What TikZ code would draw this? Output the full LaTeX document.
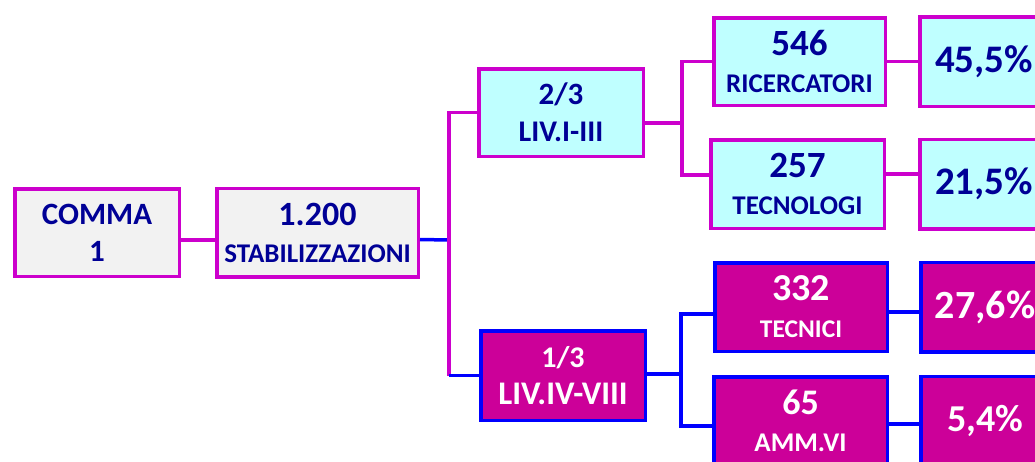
\documentclass[tikz,border=0pt]{standalone}
\usepackage{fontspec}
\setmainfont{Carlito}
\usetikzlibrary{positioning}
\definecolor{magline}{HTML}{CC00CC}
\definecolor{blueline}{HTML}{0000FF}
\definecolor{boxgrey}{HTML}{F2F2F2}
\definecolor{boxcyan}{HTML}{BFFFFF}
\definecolor{boxpink}{HTML}{CC0099}
\definecolor{navytext}{HTML}{000096}
\newcommand{\fs}[2]{\fontsize{#1}{#2}\selectfont}
\tikzstyle{box} = [rectangle, line width=3.5pt, inner sep=0pt, align=center, font=\bfseries\fs{23}{37}]
\tikzstyle{greybox} = [box, fill=boxgrey, draw=magline, text=navytext]
\tikzstyle{cyanbox} = [box, fill=boxcyan, draw=magline, text=navytext]
\tikzstyle{pinkbox} = [box, fill=boxpink, draw=blueline, text=white]
\tikzstyle{magconn} = [draw=magline, line width=3.5pt]
\tikzstyle{blueconn} = [draw=blueline, line width=3.5pt]

\begin{document}
\begin{tikzpicture}[x=1pt, y=-1pt]

\useasboundingbox (0,0) rectangle (1035,461);
\fill[white] (0,0) rectangle (1035,461);
\clip (0,0) rectangle (1035,461);

% Comma and total
\node (comma) [greybox, minimum width=164.5pt, minimum height=87.5pt] at (97,232.5) {{\fs{31}{37}COMMA}\\{\fs{31}{37}1}};
\node (stab) [greybox, minimum width=201.5pt, minimum height=88.5pt, right=34pt of comma] {{\fs{34}{36}1.200}\\{\fs{27}{36}STABILIZZAZIONI}};

% Levels
\node (livhi) [cyanbox, minimum width=164.5pt, minimum height=87.5pt] at (561,112.5) {{\fs{31}{38}2/3}\\{\fs{30}{38}LIV.I-III}};
\node (livlo) [pinkbox, minimum width=164.5pt, minimum height=89.5pt] at (563,375.5) {{\fs{30}{39}1/3}\\{\fs{33}{39}LIV.IV-VIII}};

% Profiles
\node (ric) [cyanbox, minimum width=171.5pt, minimum height=87.5pt] at (799.5,61.5) {{\fs{37}{37}546}\\{\fs{27}{37}RICERCATORI}};
\node (tecnologi) [cyanbox, minimum width=173.5pt, minimum height=88.5pt] at (797.5,184) {{\fs{37}{37}257}\\{\fs{27}{37}TECNOLOGI}};
\node (tecnici) [pinkbox, minimum width=172.5pt, minimum height=88.5pt] at (801,307) {{\fs{38}{36}332}\\{\fs{25.5}{36}TECNICI}};
\node (amm) [pinkbox, minimum width=173.5pt, minimum height=88.5pt] at (800.5,421) {{\fs{36}{34}65}\\{\fs{27}{34}AMM.VI}};

% Percentages
\node (perc1) [cyanbox, minimum width=128.5pt, minimum height=89.5pt] at (984,61.5) {\fs{39}{40}45,5\%};
\node (perc2) [cyanbox, minimum width=128.5pt, minimum height=89.5pt] at (984,184) {\fs{39}{40}21,5\%};
\node (perc3) [pinkbox, minimum width=128.5pt, minimum height=89.5pt] at (985,307) {\fs{40}{40}27,6\%};
\node (perc4) [pinkbox, minimum width=128.5pt, minimum height=89.5pt] at (985,421) {\fs{38}{40}5,4\%};

% Buses
\coordinate (busA) at (449,240);
\coordinate (busB) at (682,123);
\coordinate (busC) at (681,374);

% Connectors
\draw [magconn] ([yshift=-7.5pt]comma.east) -- ([yshift=-7.5pt]stab.west);
\draw [blueconn] ([yshift=-7pt]stab.east) -- (busA);
\draw [magconn] (livhi.west) -| (busA |- livlo.west);
\draw [blueconn] (busA |- livlo.west) -- (livlo.west);
\draw [magconn] ([yshift=-10.5pt]livhi.east) -- (busB);
\draw [magconn] (ric.west) -| (busB) |- ([yshift=9pt]tecnologi.west);
\draw [magconn] (ric) -- (perc1);
\draw [magconn] ([yshift=10pt]tecnologi.east) -- ([yshift=10pt]perc2.west);
\draw [blueconn] (livlo.east |- busC) -- (busC);
\draw [blueconn] ([yshift=-7pt]tecnici.west) -| (busC) |- ([yshift=-5pt]amm.west);
\draw [blueconn] ([yshift=-5pt]tecnici.east) -- ([yshift=-5pt]perc3.west);
\draw [blueconn] ([yshift=-3pt]amm.east) -- ([yshift=-3pt]perc4.west);

\end{tikzpicture}
\end{document}
